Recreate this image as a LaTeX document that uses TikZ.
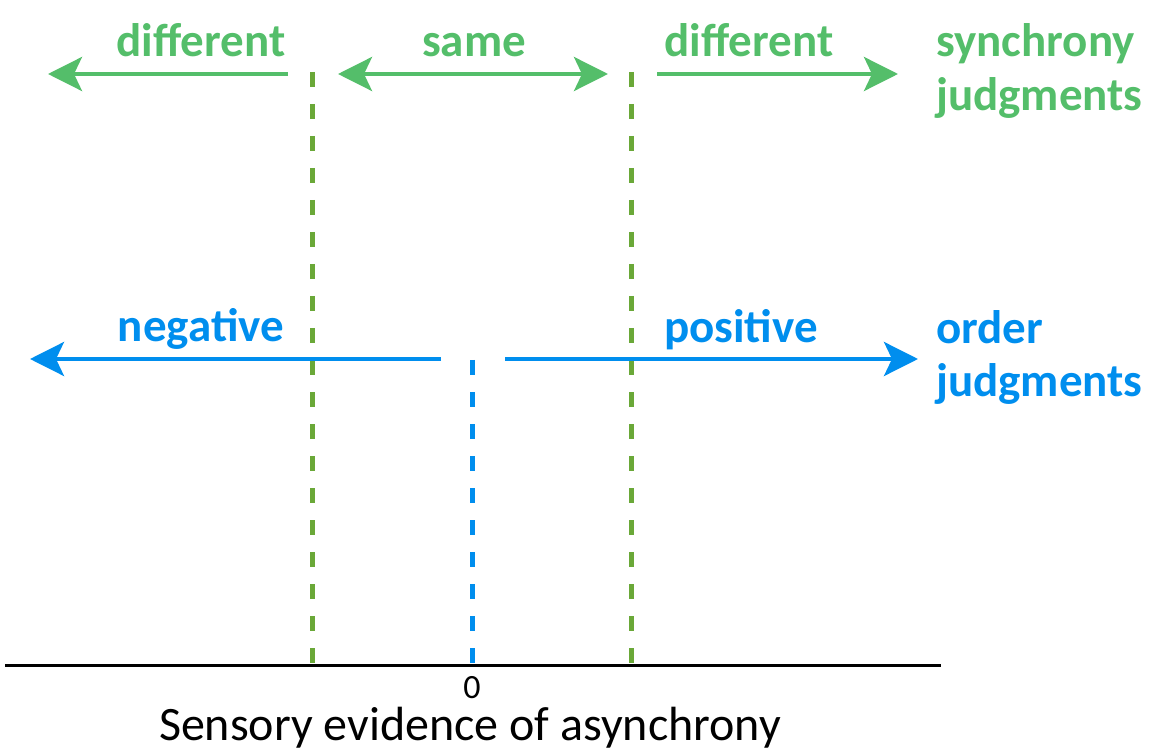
\documentclass[tikz,border=0pt]{standalone}
\usepackage{fontspec}
\setmainfont{Carlito}
\usetikzlibrary{arrows.meta}
\definecolor{sgreen}{RGB}{84,190,106}
\definecolor{dgreen}{RGB}{106,168,56}
\definecolor{oblue}{RGB}{0,142,238}
\tikzset{
  lbl/.style={inner sep=0pt, font=\fontsize{47}{54}\selectfont\bfseries},
  garrow/.style={draw=sgreen, line width=4pt, -{Stealth[length=34pt,width=34pt,inset=8pt]}},
  gdarrow/.style={draw=sgreen, line width=4pt, {Stealth[length=34pt,width=34pt,inset=8pt]}-{Stealth[length=34pt,width=34pt,inset=8pt]}},
  barrow/.style={draw=oblue, line width=4pt, -{Stealth[length=34pt,width=34pt,inset=8pt]}},
  gdash/.style={draw=dgreen, line width=5pt, dash pattern=on 15pt off 17pt},
  bdash/.style={draw=oblue, line width=5pt, dash pattern=on 15pt off 17pt},
}
\begin{document}
\begin{tikzpicture}[x=1pt,y=-1pt]
\useasboundingbox (0,0) rectangle (1149,751);
% labels
\node[lbl, text=sgreen, anchor=base] (d1) at (201,57) {different};
\node[lbl, text=sgreen, anchor=base] (sm) at (474,57) {same};
\node[lbl, text=sgreen, anchor=base] (d2) at (749,57) {different};
\node[lbl, text=sgreen, anchor=base west, align=left] (sj) at (936,111) {synchrony\\judgments};
\node[lbl, text=oblue, anchor=base] (neg) at (201,342) {negative};
\node[lbl, text=oblue, anchor=base] (pos) at (741,343) {positive};
\node[lbl, text=oblue, anchor=base west, align=left, font=\fontsize{47}{53}\selectfont\bfseries] (oj) at (936,396) {order\\judgments};
% coordinates
\coordinate (g1s) at (288,74); \coordinate (g1e) at (48,74);
\coordinate (g2s) at (338,74); \coordinate (g2e) at (608,74);
\coordinate (g3s) at (657,74); \coordinate (g3e) at (898,74);
\coordinate (b1s) at (441,359); \coordinate (b1e) at (30,359);
\coordinate (b2s) at (505,359); \coordinate (b2e) at (918,359);
\coordinate (vg1t) at (312,72); \coordinate (vg1b) at (312,665);
\coordinate (vg2t) at (631,72); \coordinate (vg2b) at (631,665);
\coordinate (vbt) at (472,360); \coordinate (vbb) at (472,665);
\coordinate (axl) at (5,665); \coordinate (axr) at (941,665);
% dashed lines
\draw[gdash] (vg1t) -- (vg1b);
\draw[gdash] (vg2t) -- (vg2b);
\draw[bdash] (vbt) -- (vbb);
% arrows
\draw[garrow] (g1s) -- (g1e);
\draw[gdarrow] (g2s) -- (g2e);
\draw[garrow] (g3s) -- (g3e);
\draw[barrow] (b1s) -- (b1e);
\draw[barrow] (b2s) -- (b2e);
% axis
\draw[line width=3pt, black] (axl) -- (axr);
\node[inner sep=0pt, anchor=base, font=\fontsize{34}{40}\selectfont] (zero) at (472,698) {0};
\node[inner sep=0pt, anchor=base, font=\fontsize{48}{56}\selectfont] (xl) at (470,740) {Sensory evidence of asynchrony};
\end{tikzpicture}
\end{document}
